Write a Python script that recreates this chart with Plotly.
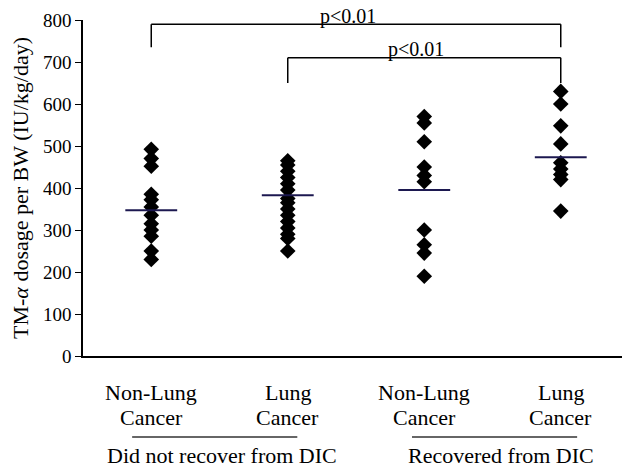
import plotly.graph_objects as go

categories = ["Non-Lung<br>Cancer", "Lung<br>Cancer", "Non-Lung<br>Cancer", "Lung<br>Cancer"]
group_labels = ["Did not recover from DIC", "Recovered from DIC"]
g1 = [492, 470, 452, 385, 372, 355, 335, 315, 300, 285, 250, 230]
g2 = [465, 455, 440, 425, 410, 395, 375, 365, 350, 335, 320, 305, 290, 280, 250]
g3 = [570, 555, 510, 450, 430, 415, 300, 265, 245, 190]
g4 = [630, 600, 548, 505, 460, 445, 432, 420, 345]
means = [347, 383, 395, 473]
y_ticks = [0, 100, 200, 300, 400, 500, 600, 700, 800]

groups = [g1, g2, g3, g4]
xpos = [1, 2, 3, 4]
FONT = "Liberation Serif, Times New Roman, serif"
PLOT_H = 336.0

fig = go.Figure()
for xi, vals in zip(xpos, groups):
    fig.add_trace(go.Scatter(
        x=[xi] * len(vals), y=vals, mode="markers",
        marker=dict(symbol="diamond", size=12, color="black"),
        showlegend=False, hoverinfo="y"))
for xi, m in zip(xpos, means):
    fig.add_trace(go.Scatter(
        x=[xi - 0.19, xi + 0.19], y=[m, m], mode="lines",
        line=dict(color="#1c1850", width=2), showlegend=False, hoverinfo="skip"))

ymax = 800.0
def py(v):
    return v / ymax

shapes = []
annotations = []

# significance brackets: (from, to, level, left_drop, right_drop, text shift)
brackets = [(1, 4, 790, 735, 735, 8), (2, 4, 710, 650, 650, 8)]
for a, b, lvl, dl, dr, ys in brackets:
    shapes.append(dict(type="line", xref="x", yref="paper", x0=a, x1=b, y0=py(lvl), y1=py(lvl),
                       line=dict(color="black", width=1.5)))
    shapes.append(dict(type="line", xref="x", yref="paper", x0=a, x1=a, y0=py(lvl), y1=py(dl),
                       line=dict(color="black", width=1.5)))
    shapes.append(dict(type="line", xref="x", yref="paper", x0=b, x1=b, y0=py(lvl), y1=py(dr),
                       line=dict(color="black", width=1.5)))
    annotations.append(dict(x=(a + b) / 2 - 0.06, y=py(lvl), xref="x", yref="paper", text="p<0.01",
                            showarrow=False, yanchor="middle", yshift=ys,
                            font=dict(family=FONT, size=20, color="black")))

# category labels (two lines each, tighter line spacing)
for xi, cat in zip(xpos, categories):
    for k, line in enumerate(cat.split("<br>")):
        annotations.append(dict(x=xi, y=0, xref="x", yref="paper", text=line, showarrow=False,
                                yanchor="middle", yshift=-36 - 25 * k,
                                font=dict(family=FONT, size=22, color="black")))

# group underlines and labels
for (a, b), lab in zip([(0.86, 2.07), (2.91, 4.12)], group_labels):
    shapes.append(dict(type="line", xref="x", yref="paper", x0=a, x1=b,
                       y0=-81 / PLOT_H, y1=-81 / PLOT_H, line=dict(color="#333333", width=1.5)))
    annotations.append(dict(x=(a + b) / 2 + 0.05, y=0, xref="x", yref="paper", text=lab,
                            showarrow=False, yanchor="middle", yshift=-99,
                            font=dict(family=FONT, size=22, color="black")))

fig.update_layout(
    width=622, height=459,
    margin=dict(l=75, r=1, t=12, b=111),
    plot_bgcolor="white", paper_bgcolor="white",
    font=dict(family=FONT, size=19, color="black"),
    shapes=shapes, annotations=annotations,
    xaxis=dict(range=[0.5, 4.5], tickvals=xpos, showticklabels=False, showline=True,
               linecolor="black", linewidth=1.5, ticks="", showgrid=False, zeroline=False,
               automargin=False),
    yaxis=dict(range=[0, ymax], tickvals=y_ticks, showline=True, linecolor="black", linewidth=1.5,
               ticks="outside", ticklen=6, tickcolor="black", showgrid=False, zeroline=False,
               automargin=False,
               title=dict(text="TM-<i>α</i> dosage per BW (IU/kg/day)", standoff=17,
                          font=dict(family=FONT, size=22)),
               tickfont=dict(family=FONT, size=19)),
)
fig.write_html("out.html")
